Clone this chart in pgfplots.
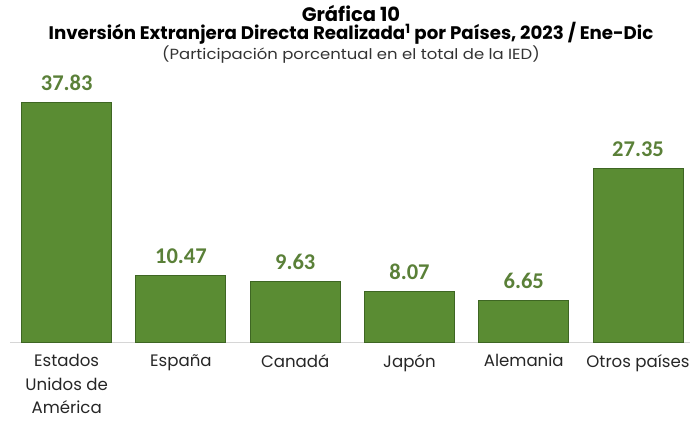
\documentclass[border=0pt]{standalone}
\usepackage{fontspec}
\usepackage{pgfplots}
\pgfplotsset{compat=1.18}
\setmainfont{Poppins}
\newfontfamily\subfont[FakeStretch=1.12]{Poppins}
\newfontfamily\valfont{Carlito}

\definecolor{barfill}{HTML}{5A8C33}
\definecolor{baredge}{HTML}{3E6623}
\definecolor{valgreen}{HTML}{5A8038}
\definecolor{basegray}{HTML}{D6D6D6}

\begin{document}
\begin{tikzpicture}
  \begin{axis}[
      scale only axis,
      width=680pt, height=253.6pt,
      xmin=-0.496, xmax=5.455,
      ymin=0, ymax=40,
      axis x line*=bottom,
      axis y line=none,
      x axis line style={basegray, line width=1pt},
      xtick=data,
      xticklabels={{Estados\\Unidos de\\América}, España, Canadá, Japón, Alemania, Otros países},
      x tick label style={align=center, font=\fontsize{16.6}{23.6}\selectfont, text=black!85, anchor=north, yshift=-8.5pt},
      major tick length=0pt,
      ytick=\empty,
      clip=false,
      nodes near coords,
      nodes near coords style={font=\valfont\bfseries\fontsize{22.5}{24}\selectfont, text=valgreen, anchor=base, yshift=12pt,
        /pgf/number format/assume math mode=true,
        /pgf/number format/fixed, /pgf/number format/fixed zerofill, /pgf/number format/precision=2},
    ]
    \addplot[ybar, bar width=90pt, fill=barfill, draw=baredge, line width=1pt]
      coordinates {(0,37.83) (1,10.47) (2,9.63) (3,8.07) (4,6.65) (5,27.35)};
    \coordinate (O) at (rel axis cs:0,0);
  \end{axis}

  \pgfresetboundingbox
  \useasboundingbox ([shift={(-10pt,-82.7pt)}]O) rectangle ++(691pt,425pt);

  % titles
  \node[anchor=base, font=\bfseries\fontsize{19.5}{21}\selectfont] at ([shift={(341pt,321pt)}]O) {Gráfica 10};
  \node[anchor=base, font=\bfseries\fontsize{18.2}{20}\selectfont] at ([shift={(341pt,302.5pt)}]O) {Inversión Extranjera Directa Realizada\textsuperscript{1} por Países, 2023 / Ene-Dic};
  \node[anchor=base, font=\subfont\fontsize{14.7}{16}\selectfont, text=black!80] at ([shift={(341pt,282.5pt)}]O) {(Participación porcentual en el total de la IED)};
\end{tikzpicture}
\end{document}
